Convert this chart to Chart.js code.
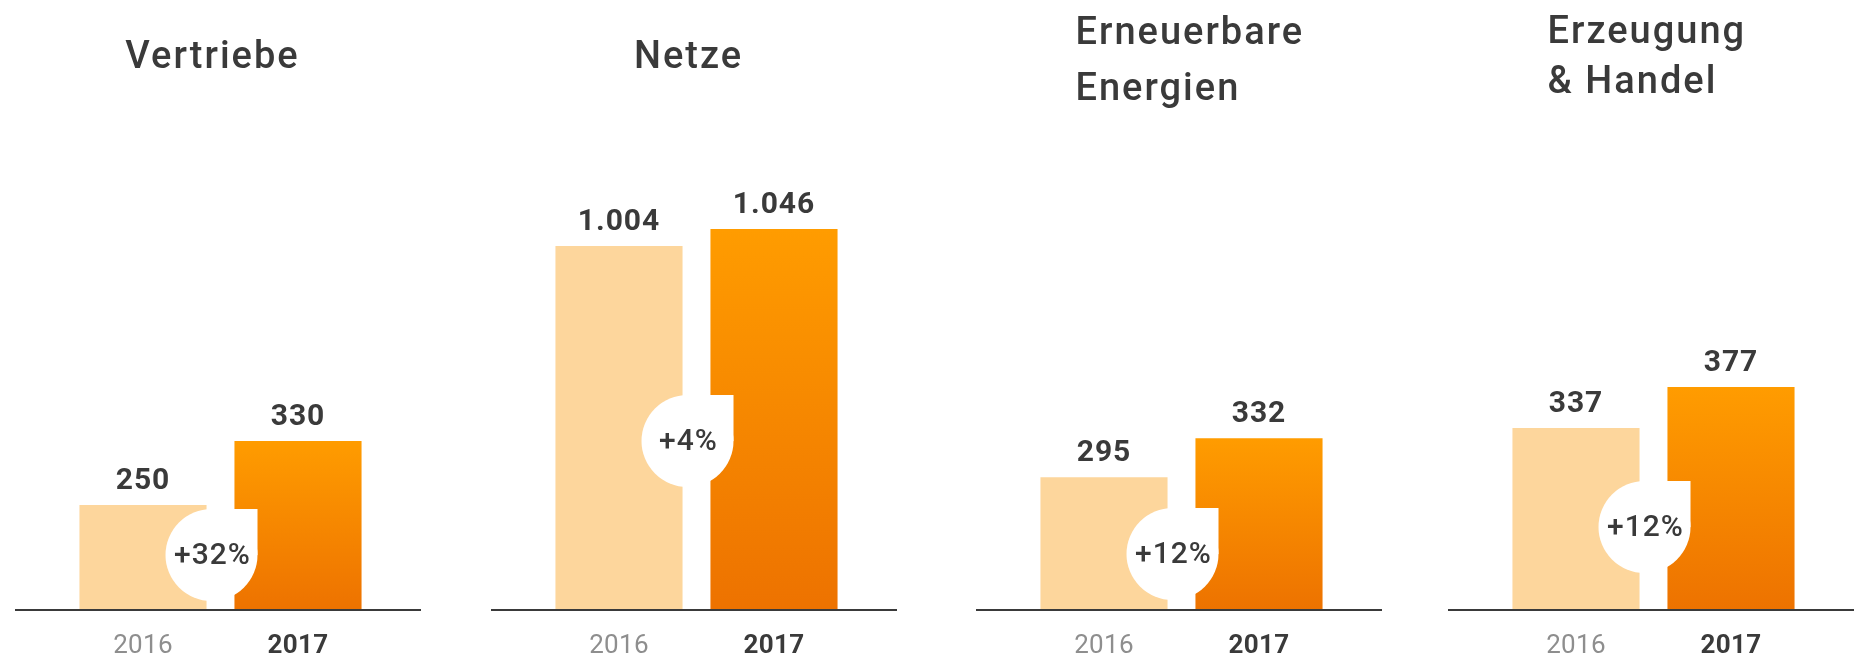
<!DOCTYPE html>
<html>
<head>
<meta charset="utf-8">
<script src="https://cdn.jsdelivr.net/npm/chart.js@4.4.1/dist/chart.umd.min.js"></script>
<style>
  html, body { margin: 0; padding: 0; background: #ffffff; }
  body { width: 1860px; height: 657px; position: relative; overflow: hidden; }
  .panel { position: absolute; top: 0; width: 406px; height: 657px; }
</style>
</head>
<body>
<div class="panel" style="left:15px"><canvas id="c0"></canvas></div>
<div class="panel" style="left:491px"><canvas id="c1"></canvas></div>
<div class="panel" style="left:976px"><canvas id="c2"></canvas></div>
<div class="panel" style="left:1448px"><canvas id="c3"></canvas></div>
<script>
// ---- data ----
const years = ['2016', '2017'];
const segments = [['Vertriebe'], ['Netze'], ['Erneuerbare', 'Energien'], ['Erzeugung', '& Handel']];
const values2016 = [250, 1004, 295, 337];
const values2017 = [330, 1046, 332, 377];
const valueLabels2016 = ['250', '1.004', '295', '337'];
const valueLabels2017 = ['330', '1.046', '332', '377'];
const changes = ['+32%', '+4%', '+12%', '+12%'];

// ---- per-panel scale / decoration settings (not data) ----
const axisMin = [117.5, 102, 168, 158.5];
const axisMax = [756, 1365, 653, 657];
const badgeY = [555, 441, 554, 527];
const titleAlign = ['center', 'center', 'left', 'left'];
const titleBaselines = [[68], [68], [44, 100], [43, 93]];

const DARK = '#3a3a3a';
const GREY = '#8e8e8e';
const LIGHT = '#fdd69c';
const FONT = 'Roboto, "Noto Sans", sans-serif';

function orangeFill(ctx) {
  const chart = ctx.chart;
  const area = chart.chartArea;
  if (!area || ctx.type !== 'data') return '#f68a00';
  const y = chart.scales.y;
  const top = y.getPixelForValue(ctx.raw);
  const bottom = y.getPixelForValue(y.min);
  const g = chart.ctx.createLinearGradient(0, top, 0, bottom);
  g.addColorStop(0, '#ff9c00');
  g.addColorStop(1, '#ed7200');
  return g;
}

const decorPlugin = {
  id: 'decor',
  afterDatasetsDraw(chart, args, opts) {
    const ctx = chart.ctx;
    const meta = chart.getDatasetMeta(0);
    const bars = meta.data;
    const area = chart.chartArea;
    const i = opts.index;
    ctx.save();
    // badge
    const cx = (bars[0].x + bars[1].x) / 2 - 9;
    const cy = badgeY[i];
    const r = 46;
    ctx.fillStyle = '#ffffff';
    ctx.beginPath();
    ctx.arc(cx, cy, r, 0, Math.PI * 2);
    ctx.fill();
    ctx.fillRect(cx, cy - r, r, r);
    ctx.fillStyle = DARK;
    ctx.font = '500 30px ' + FONT;
    ctx.textAlign = 'center';
    ctx.textBaseline = 'middle';
    ctx.letterSpacing = '1px';
    ctx.fillText(changes[i], cx + 1, cy + 1);

    // axis line
    const baseY = chart.scales.y.getPixelForValue(chart.scales.y.min) - 1;
    ctx.strokeStyle = '#3a3a3a';
    ctx.lineWidth = 2;
    ctx.beginPath();
    ctx.moveTo(0, baseY);
    ctx.lineTo(chart.width, baseY);
    ctx.stroke();

    // value labels
    ctx.textBaseline = 'alphabetic';
    ctx.font = '700 30px ' + FONT;
    ctx.letterSpacing = '1px';
    const labs = [valueLabels2016[i], valueLabels2017[i]];
    bars.forEach((b, k) => {
      ctx.fillStyle = DARK;
      ctx.fillText(labs[k], b.x, b.y - 16);
    });

    // year labels via x scale
    const xs = chart.scales.x;
    years.forEach((yr, k) => {
      const x = xs.getPixelForValue(k);
      ctx.font = (k === 0 ? '400 ' : '700 ') + '26px ' + FONT;
      ctx.fillStyle = k === 0 ? GREY : DARK;
      ctx.letterSpacing = '0.3px';
      ctx.fillText(yr, x, 653);
    });

    // title
    ctx.font = '500 38px ' + FONT;
    ctx.fillStyle = DARK;
    ctx.letterSpacing = '2px';
    const lines = segments[i];
    if (titleAlign[i] === 'center') {
      ctx.textAlign = 'center';
      const tx = (area.left + area.right) / 2 - 8;
      lines.forEach((t, k) => ctx.fillText(t, tx, titleBaselines[i][k]));
    } else {
      ctx.textAlign = 'left';
      const tx = area.left + 49;
      lines.forEach((t, k) => ctx.fillText(t, tx, titleBaselines[i][k]));
    }
    ctx.restore();
  }
};

for (let i = 0; i < 4; i++) {
  new Chart(document.getElementById('c' + i), {
    type: 'bar',
    data: {
      labels: years,
      datasets: [{
        label: segments[i].join(' '),
        data: [values2016[i], values2017[i]],
        backgroundColor: (ctx) => ctx.dataIndex === 0 ? LIGHT : orangeFill(ctx),
        borderWidth: 0,
        barPercentage: 0.82,
        categoryPercentage: 1.0
      }]
    },
    options: {
      responsive: true,
      maintainAspectRatio: false,
      animation: false,
      layout: { padding: { left: 50.5, right: 45.5, top: 100, bottom: 46 } },
      scales: {
        x: { display: false, offset: true },
        y: { display: false, min: axisMin[i], max: axisMax[i] }
      },
      plugins: {
        legend: { display: false },
        tooltip: { enabled: false },
        decor: { index: i }
      }
    },
    plugins: [decorPlugin]
  });
}
</script>
</body>
</html>
